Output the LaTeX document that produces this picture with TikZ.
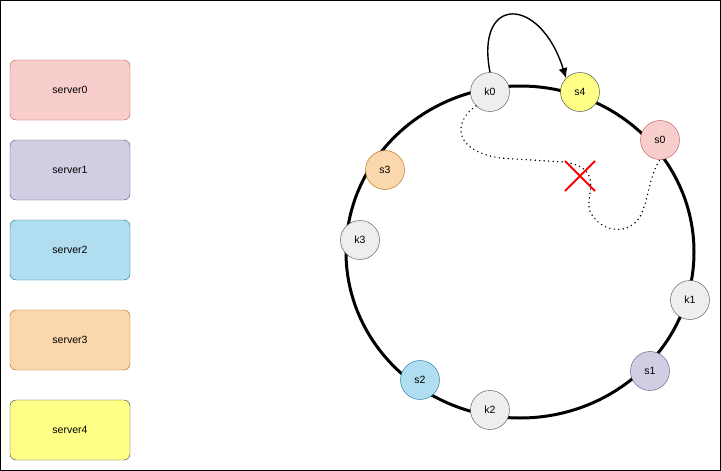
\documentclass[tikz,border=0pt]{standalone}
\usepackage{fontspec}
\setmainfont{Liberation Sans}
\usetikzlibrary{arrows.meta}
\begin{document}
\begin{tikzpicture}[x=1pt,y=-1pt,font=\fontsize{10.5}{12}\selectfont,
 srv/.style={draw,rounded corners=6pt,minimum width=120pt,minimum height=60pt},
 pt/.style={draw,circle,minimum size=39pt,inner sep=0pt},
 kk/.style={pt,fill=kgray,draw=black!70}]
\definecolor{kgray}{HTML}{EEEEEE}
\definecolor{f0}{HTML}{F8CECC}\definecolor{d0}{HTML}{B85450}
\definecolor{f1}{HTML}{D0CEE2}\definecolor{d1}{HTML}{56517E}
\definecolor{f2}{HTML}{B1DDF0}\definecolor{d2}{HTML}{10739E}
\definecolor{f3}{HTML}{FAD7AC}\definecolor{d3}{HTML}{B46504}
\definecolor{f4}{HTML}{FFFF88}\definecolor{d4}{HTML}{36393D}
\useasboundingbox (0,0) rectangle (721,471);
\draw[fill=white] (0.5,0.5) rectangle (720.5,470.5);
\node[srv,fill=f0,draw=d0] (b0) at (70,90) {server0};
\node[srv,fill=f1,draw=d1] (b1) at (70,170) {server1};
\node[srv,fill=f2,draw=d2] (b2) at (70,250) {server2};
\node[srv,fill=f3,draw=d3] (b3) at (70,340) {server3};
\node[srv,fill=f4,draw=d4] (b4) at (70,430) {server4};
\draw[line width=3pt] (520,252) ellipse [x radius=174, y radius=166];
\node[kk] (k0) at (490,92) {k0};
\node[pt,fill=f4,draw=d4] (s4) at (580,92) {s4};
\node[pt,fill=f0,draw=d0] (s0) at (660,140) {s0};
\node[kk] (k1) at (690,300) {k1};
\node[pt,fill=f1,draw=d1] (s1) at (650,371) {s1};
\node[kk] (k2) at (490,410) {k2};
\node[pt,fill=f2,draw=d2] (s2) at (420,380) {s2};
\node[kk] (k3) at (360,240) {k3};
\node[pt,fill=f3,draw=d3] (s3) at (385,170) {s3};
\draw[line width=1.4pt,-{Latex[length=10pt,width=9pt]}] (k0.north) .. controls (475,-5) and (540,-5) .. (s4.north west);
\draw[line width=1.6pt,line cap=round,dash pattern=on 0pt off 4.5pt] (k0.south west) .. controls (455,120) and (450,150) .. (500,158) -- (563,162)
 .. controls (610,168) and (580,200) .. (592,215) .. controls (605,235) and (635,235) .. (643,210)
 .. controls (650,190) and (650,175) .. (s0.south);
\draw[red,line width=2pt] (565,161) -- (595,191) (595,161) -- (565,191);
\end{tikzpicture}
\end{document}
